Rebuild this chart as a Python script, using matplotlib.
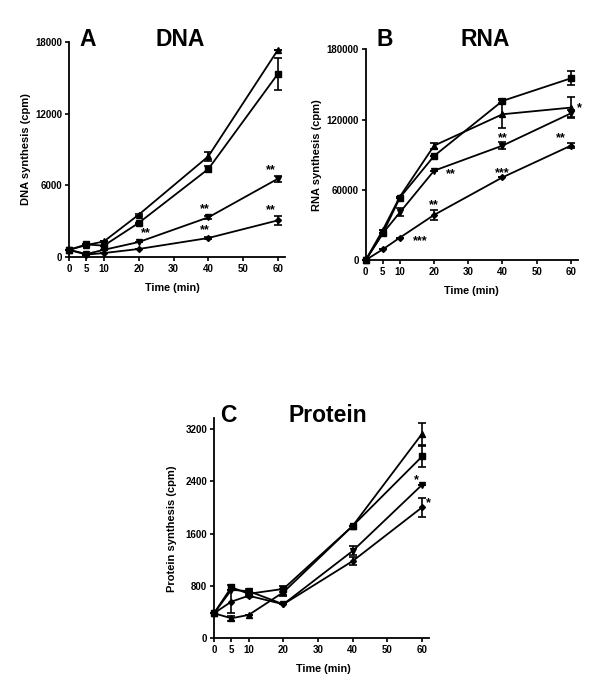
import matplotlib
matplotlib.use("Agg")
import matplotlib.pyplot as plt

plt.rcParams['font.family'] = ['Liberation Sans', 'DejaVu Sans']
plt.rcParams['font.weight'] = 'bold'

time = [0, 5, 10, 20, 40, 60]
xticks = [0, 5, 10, 20, 30, 40, 50, 60]

# Panel A: DNA synthesis (cpm)
dna_up = [600, 1000, 1300, 3540, 8430, 17360]
dna_up_err = [0, 0, 0, 100, 400, 0]
dna_sq = [600, 1050, 950, 2850, 7370, 15350]
dna_sq_err = [0, 0, 0, 0, 250, 1350]
dna_dn = [600, 250, 600, 1250, 3320, 6560]
dna_dn_err = [0, 0, 0, 0, 100, 250]
dna_di = [600, 200, 330, 670, 1590, 3070]
dna_di_err = [0, 0, 0, 0, 80, 380]
dna_yticks = [0, 6000, 12000, 18000]
dna_stars = [(22, 2000, '**'), (39, 4000, '**'), (39, 2250, '**'), (58, 7300, '**'), (58, 3950, '**')]

# Panel B: RNA synthesis (cpm)
rna_sq = [0, 22800, 53300, 88900, 135900, 155200]
rna_sq_err = [0, 0, 0, 0, 2000, 6000]
rna_up = [0, 25600, 54100, 97700, 124500, 130200]
rna_up_err = [0, 0, 0, 2500, 12000, 9000]
rna_dn = [0, 22800, 40700, 76300, 97700, 125300]
rna_dn_err = [0, 0, 3500, 0, 3000, 3000]
rna_di = [0, 9100, 19100, 38500, 70600, 97700]
rna_di_err = [0, 0, 0, 4500, 0, 2000]
rna_yticks = [0, 60000, 120000, 180000]
rna_stars = [(16, 16000, '***'), (20, 46500, '**'), (25, 73000, '**'), (40, 104000, '**'), (40, 74500, '***'), (57, 104000, '**'), (62.5, 129500, '*')]

# Panel C: Protein synthesis (cpm)
pro_up = [382, 306, 357, 703, 1717, 3124]
pro_up_err = [0, 40, 0, 50, 0, 165]
pro_sq = [382, 780, 680, 754, 1717, 2777]
pro_sq_err = [0, 40, 40, 40, 0, 165]
pro_dn = [382, 740, 720, 520, 1335, 2344]
pro_dn_err = [0, 0, 40, 0, 70, 0]
pro_di = [382, 560, 650, 520, 1180, 2000]
pro_di_err = [0, 180, 0, 0, 60, 150]
pro_yticks = [0, 800, 1600, 2400, 3200]
pro_stars = [(58.5, 2420, '*'), (61.8, 2070, '*')]

fig = plt.figure(figsize=(6, 6.94), dpi=100)

def panel(rect, series, yticks, ylim, ylabel, letter, title, stars,
          ylab_x, xlab_xy, letter_x, title_x, head_y):
    ax = fig.add_axes(rect)
    for vals, errs, mk, ms in series:
        ax.errorbar(time, vals, yerr=errs, color='black', marker=mk, ms=ms,
                    lw=1.3, elinewidth=1.2, capsize=3, capthick=1.2, clip_on=False)
    ax.set_xlim(0, 62)
    ax.set_ylim(*ylim)
    ax.set_xticks(xticks)
    ax.set_yticks(yticks)
    ax.set_xticklabels([str(t) for t in xticks])
    ax.set_yticklabels([str(t) for t in yticks])
    for s in ['top', 'right']:
        ax.spines[s].set_visible(False)
    for s in ['left', 'bottom']:
        ax.spines[s].set_linewidth(1.3)
    ax.tick_params(direction='out', length=3, width=1.2, labelsize=7, pad=2)
    for lab in ax.get_xticklabels() + ax.get_yticklabels():
        lab.set_fontweight('bold')
    ax.set_ylabel(ylabel, fontsize=8, fontweight='bold')
    ax.yaxis.set_label_coords(ylab_x, 0.5)
    ax.set_xlabel('Time (min)', fontsize=7.8, fontweight='bold')
    ax.xaxis.set_label_coords(*xlab_xy)
    for x, y, s in stars:
        ax.text(x, y, s, fontsize=9, fontweight='bold', ha='center', va='center')
    fig.text(letter_x, head_y, letter, fontsize=16.5, fontweight='bold', ha='center', va='center')
    fig.text(title_x, head_y, title, fontsize=16.5, fontweight='bold', ha='center', va='center')
    return ax

H = 694.0
W = 600.0

panel([69 / W, 1 - 257 / H, 216 / W, 215 / H],
      [(dna_up, dna_up_err, '^', 5), (dna_sq, dna_sq_err, 's', 5),
       (dna_dn, dna_dn_err, 'v', 5), (dna_di, dna_di_err, 'D', 3)],
      dna_yticks, (0, 18000), 'DNA synthesis (cpm)', 'A', 'DNA', dna_stars,
      -0.176, (0.48, -0.121), 87.5 / W, 180 / W, 1 - 39 / H)

panel([365.7 / W, 1 - 260 / H, 212 / W, 210.7 / H],
      [(rna_up, rna_up_err, '^', 5), (rna_sq, rna_sq_err, 's', 5),
       (rna_dn, rna_dn_err, 'v', 5), (rna_di, rna_di_err, 'D', 3)],
      rna_yticks, (0, 180000), 'RNA synthesis (cpm)', 'B', 'RNA', rna_stars,
      -0.208, (0.5, -0.123), 385 / W, 485 / W, 1 - 40 / H)

panel([214 / W, 1 - 638.3 / H, 215 / W, 220 / H],
      [(pro_up, pro_up_err, '^', 5), (pro_sq, pro_sq_err, 's', 5),
       (pro_dn, pro_dn_err, 'v', 5), (pro_di, pro_di_err, 'D', 3)],
      pro_yticks, (0, 3360), 'Protein synthesis (cpm)', 'C', 'Protein', pro_stars,
      -0.172, (0.507, -0.117), 228 / W, 328 / W, 1 - 415 / H)

fig.savefig('out.png', dpi=100)
